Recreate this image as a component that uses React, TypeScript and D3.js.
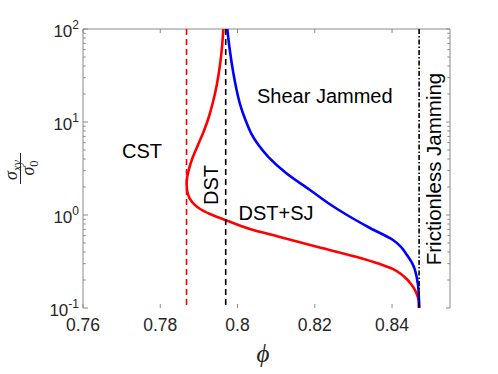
import React from "react";
import * as d3 from "d3";

// ---- data ----
const xTicks = [0.76, 0.78, 0.8, 0.82, 0.84];
const xTickLabels = ["0.76", "0.78", "0.8", "0.82", "0.84"];
const yTickExps = [-1, 0, 1, 2];

// red branch (DST boundary)
const redPhi = [0.79632, 0.79603, 0.79546, 0.79463, 0.79365, 0.79249, 0.79119, 0.78977, 0.78834, 0.78744, 0.78697, 0.78684, 0.78697, 0.78757, 0.78873, 0.79054, 0.79287, 0.79546, 0.79986, 0.80323, 0.81099, 0.81979, 0.83041, 0.83688, 0.84017, 0.84231, 0.84379, 0.8449, 0.84594, 0.84659, 0.84687, 0.847];
const redSigma = [100, 67.3, 41.0, 25.0, 16.4, 11.04, 7.81, 5.66, 4.1, 3.12, 2.56, 2.15, 1.81, 1.52, 1.31, 1.146, 1.025, 0.928, 0.79, 0.707, 0.58, 0.464, 0.358, 0.297, 0.263, 0.232, 0.205, 0.181, 0.156, 0.1346, 0.122, 0.1];

// blue branch (shear jamming boundary)
const bluePhi = [0.79735, 0.798, 0.79878, 0.79976, 0.80072, 0.80206, 0.80349, 0.80543, 0.80802, 0.81255, 0.81876, 0.82342, 0.82834, 0.83429, 0.84024, 0.84231, 0.84387, 0.84516, 0.84594, 0.84672, 0.84697, 0.847];
const blueSigma = [100, 59.5, 36.2, 22.1, 15.2, 10.5, 7.61, 5.66, 4.2, 2.83, 1.86, 1.346, 1.0, 0.725, 0.538, 0.453, 0.371, 0.305, 0.256, 0.177, 0.122, 0.1];

const cstPhi = 0.7868;
const dstPhi = 0.79694;
const jamPhi = 0.847;

const W = 498;
const H = 374;
const L = 83, R = 450, T = 29, B = 308;

const sans = "'Liberation Sans', Arial, Helvetica, sans-serif";
const serif = "'Liberation Serif', 'DejaVu Serif', serif";
const axisColor = "#8a8a8a";

export default function App() {
  const x = d3.scaleLinear().domain([0.76, 0.855]).range([L, R]);
  const y = d3.scaleLog().domain([0.1, 100]).range([B, T]);

  const mk = (phi: number[], sig: number[]) =>
    d3
      .line<number>()
      .x((_, i) => x(phi[i]))
      .y((_, i) => y(sig[i]))
      .curve(d3.curveCatmullRom.alpha(0.5))(phi.map((_, i) => i)) || "";

  const minor: number[] = [];
  for (let e = -1; e < 2; e++) {
    for (let k = 2; k <= 9; k++) minor.push(k * Math.pow(10, e));
  }

  return (
    <svg
      width={W}
      height={H}
      style={{ position: "absolute", left: 0, top: 0, background: "#fff" }}
    >
      {/* axes frame: top, left, right */}
      <line x1={L} x2={R} y1={T} y2={T} stroke={axisColor} strokeWidth={1} />
      <line x1={L} x2={L} y1={T} y2={B} stroke={axisColor} strokeWidth={1} />
      <line x1={R} x2={R} y1={T} y2={B} stroke={axisColor} strokeWidth={1} />

      {/* x ticks */}
      {xTicks.map((t, i) => (
        <g key={"xt" + i}>
          <line x1={x(t)} x2={x(t)} y1={B} y2={B - 4} stroke={axisColor} />
          <line x1={x(t)} x2={x(t)} y1={T} y2={T + 4} stroke={axisColor} />
          <text
            x={x(t)}
            y={331}
            textAnchor="middle"
            fontFamily={sans}
            fontSize={17.5}
            fill="#262626"
          >
            {xTickLabels[i]}
          </text>
        </g>
      ))}

      {/* y major ticks */}
      {yTickExps.map((e) => {
        const yy = y(Math.pow(10, e));
        return (
          <g key={"yt" + e}>
            <line x1={L} x2={L + 5} y1={yy} y2={yy} stroke={axisColor} />
            <line x1={R} x2={R - 4} y1={yy} y2={yy} stroke={axisColor} />
            <text
              x={79}
              y={yy + 8}
              textAnchor="end"
              fontFamily={sans}
              fontSize={17}
              fill="#262626"
            >
              10
              <tspan fontSize={12} dy={-8}>
                {e < 0 ? "-" + Math.abs(e) : String(e)}
              </tspan>
            </text>
          </g>
        );
      })}
      {/* y minor ticks */}
      {minor.map((v, i) => (
        <g key={"ym" + i}>
          <line x1={L} x2={L + 2.7} y1={y(v)} y2={y(v)} stroke={axisColor} />
          <line x1={R} x2={R - 2.7} y1={y(v)} y2={y(v)} stroke={axisColor} />
        </g>
      ))}

      {/* curves */}
      <path d={mk(redPhi, redSigma)} fill="none" stroke="#ff0000" strokeWidth={2.6} />
      <path d={mk(bluePhi, blueSigma)} fill="none" stroke="#0000ff" strokeWidth={2.6} />

      {/* vertical reference lines */}
      <line
        x1={x(cstPhi)}
        x2={x(cstPhi)}
        y1={T}
        y2={B}
        stroke="#ff0000"
        strokeWidth={1.6}
        strokeDasharray="6,4"
      />
      <line
        x1={x(dstPhi)}
        x2={x(dstPhi)}
        y1={T}
        y2={B}
        stroke="#000"
        strokeWidth={1.6}
        strokeDasharray="6,4"
      />
      <line
        x1={x(jamPhi)}
        x2={x(jamPhi)}
        y1={T}
        y2={B}
        stroke="#000"
        strokeWidth={1.6}
        strokeDasharray="5,2,1.5,2"
      />

      {/* region labels */}
      <text x={122} y={158} fontFamily={sans} fontSize={20} fill="#000">
        CST
      </text>
      <text x={257} y={103} fontFamily={sans} fontSize={20} fill="#000">
        Shear Jammed
      </text>
      <text x={238.5} y={219.5} fontFamily={sans} fontSize={20} fill="#000">
        DST+SJ
      </text>
      <text
        transform="translate(218,185) rotate(-90)"
        textAnchor="middle"
        fontFamily={sans}
        fontSize={20}
        fill="#000"
      >
        DST
      </text>
      <text
        transform="translate(441,169) rotate(-90)"
        textAnchor="middle"
        fontFamily={sans}
        fontSize={20.5}
        fill="#000"
      >
        Frictionless Jamming
      </text>

      {/* x label */}
      <text
        x={263}
        y={362}
        textAnchor="middle"
        fontFamily={serif}
        fontStyle="italic"
        fontSize={25}
        fill="#262626"
      >
        ϕ
      </text>

      {/* y label: fraction sigma_xy / sigma_0 */}
      <g transform="translate(20.5,168) rotate(-90)" fill="#262626">
        <text x={-2} y={-4} textAnchor="middle" fontFamily={serif} fontSize={18}>
          <tspan fontStyle="italic">σ</tspan>
          <tspan fontStyle="italic" fontSize={12.5} dy={4}>
            xy
          </tspan>
        </text>
        <line x1={-16} x2={15} y1={0} y2={0} stroke="#262626" strokeWidth={1} />
        <text x={0} y={13} textAnchor="middle" fontFamily={serif} fontSize={18}>
          <tspan fontStyle="italic">σ</tspan>
          <tspan fontSize={12.5} dy={4}>
            0
          </tspan>
        </text>
      </g>
    </svg>
  );
}
